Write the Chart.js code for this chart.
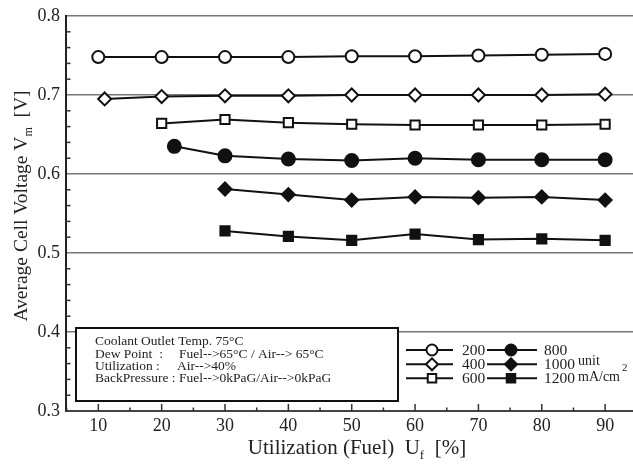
<!DOCTYPE html>
<html>
<head>
<meta charset="utf-8">
<script src="https://cdn.jsdelivr.net/npm/chart.js@4/dist/chart.umd.min.js"></script>
<style>
  html, body { margin: 0; padding: 0; background: #fff; overflow: hidden; }
  #chart { display: block; }
</style>
</head>
<body>
<canvas id="chart" width="633" height="470"></canvas>
<script>
// values
const xTicks = [10, 20, 30, 40, 50, 60, 70, 80, 90];
const yTicks = [0.3, 0.4, 0.5, 0.6, 0.7, 0.8];

const x200 = [10, 20, 30, 40, 50, 60, 70, 80, 90];
const v200 = [0.748, 0.748, 0.748, 0.748, 0.749, 0.749, 0.750, 0.751, 0.752];
const x400 = [11, 20, 30, 40, 50, 60, 70, 80, 90];
const v400 = [0.695, 0.698, 0.699, 0.699, 0.700, 0.700, 0.700, 0.700, 0.701];
const x600 = [20, 30, 40, 50, 60, 70, 80, 90];
const v600 = [0.664, 0.669, 0.665, 0.663, 0.662, 0.662, 0.662, 0.663];
const x800 = [22, 30, 40, 50, 60, 70, 80, 90];
const v800 = [0.635, 0.623, 0.619, 0.617, 0.620, 0.618, 0.618, 0.618];
const x1000 = [30, 40, 50, 60, 70, 80, 90];
const v1000 = [0.581, 0.574, 0.567, 0.571, 0.570, 0.571, 0.567];
const x1200 = [30, 40, 50, 60, 70, 80, 90];
const v1200 = [0.528, 0.521, 0.516, 0.524, 0.517, 0.518, 0.516];

const noteLines = [
  ['Coolant Outlet Temp. 75°C'],
  ['Dew Point  :', 'Fuel-->65°C / Air--> 65°C'],
  ['Utilization :', 'Air-->40%'],
  ['BackPressure : Fuel-->0kPaG/Air-->0kPaG']
];

const SERIF = '"Liberation Serif", "DejaVu Serif", serif';
const INK = '#111';

function pts(xs, ys) {
  return xs.map((x, i) => ({ x: x, y: ys[i] }));
}

function series(label, xs, ys, style, filled, radius) {
  return {
    label: label,
    data: pts(xs, ys),
    borderColor: INK,
    borderWidth: 2,
    pointStyle: style,
    pointRadius: radius,
    pointHoverRadius: radius,
    pointBorderWidth: 2,
    pointBorderColor: INK,
    pointBackgroundColor: filled ? INK : '#fff',
    tension: 0,
    clip: false
  };
}

const datasets = [
  series('200', x200, v200, 'circle', false, 6),
  series('400', x400, v400, 'rectRot', false, 6.5),
  series('600', x600, v600, 'rect', false, 6.5),
  series('800', x800, v800, 'circle', true, 6.5),
  series('1000', x1000, v1000, 'rectRot', true, 6.5),
  series('1200', x1200, v1200, 'rect', true, 6.5)
];

function marker(ctx, ds, x, y, r) {
  ctx.save();
  ctx.fillStyle = ds.pointBackgroundColor;
  ctx.strokeStyle = ds.pointBorderColor;
  ctx.lineWidth = ds.pointBorderWidth;
  Chart.helpers.drawPoint(ctx, { pointStyle: ds.pointStyle, radius: r, rotation: 0, borderWidth: ds.pointBorderWidth }, x, y);
  ctx.restore();
}

// minor ticks, note box, legend and axis titles
const extras = {
  id: 'extras',
  afterDatasetsDraw(chart) {
    const ctx = chart.ctx;
    const xs = chart.scales.x, ys = chart.scales.y;
    const area = chart.chartArea;
    ctx.save();

    // inward tick marks
    ctx.strokeStyle = '#333';
    ctx.lineWidth = 1.5;
    for (let v = 5; v <= 90; v += 5) {
      const px = xs.getPixelForValue(v);
      const len = v % 10 === 0 ? 7 : 3.5;
      ctx.beginPath();
      ctx.moveTo(px, area.bottom);
      ctx.lineTo(px, area.bottom - len);
      ctx.stroke();
    }
    for (let i = 1; i < 25; i++) {
      if (i % 5 === 0) continue;
      const py = ys.getPixelForValue(0.3 + i * 0.02);
      ctx.beginPath();
      ctx.moveTo(area.left, py);
      ctx.lineTo(area.left + 4.5, py);
      ctx.stroke();
    }

    // note box
    ctx.fillStyle = '#fff';
    ctx.fillRect(76, 328, 322, 73);
    ctx.strokeStyle = '#111';
    ctx.lineWidth = 2;
    ctx.strokeRect(76, 328, 322, 73);
    ctx.fillStyle = '#222';
    ctx.font = '13.5px ' + SERIF;
    ctx.textBaseline = 'middle';
    ctx.textAlign = 'left';
    const rowsY = [341, 354, 366, 378];
    const valX = [0, 179, 177, 0];
    noteLines.forEach((parts, i) => {
      ctx.fillText(parts[0], 95, rowsY[i]);
      if (parts[1]) ctx.fillText(parts[1], valX[i], rowsY[i]);
    });

    // legend
    const legRows = [350, 364.3, 378.3];
    const cols = [
      { x1: 406, x2: 453, mx: 432, tx: 462 },
      { x1: 487, x2: 537, mx: 511, tx: 544 }
    ];
    ctx.font = '15.5px ' + SERIF;
    chart.data.datasets.forEach((ds, i) => {
      const c = cols[Math.floor(i / 3)];
      const y = legRows[i % 3];
      ctx.strokeStyle = INK;
      ctx.lineWidth = 2;
      ctx.beginPath();
      ctx.moveTo(c.x1, y);
      ctx.lineTo(c.x2, y);
      ctx.stroke();
      marker(ctx, ds, c.mx, y, ds.pointStyle === 'circle' ? 5.5 : 6);
      ctx.fillStyle = '#222';
      ctx.fillText(ds.label, c.tx, y + 1);
    });
    ctx.font = '14px ' + SERIF;
    ctx.fillText('unit', 578, 361);
    ctx.fillText('mA/cm', 578, 377);
    const w = ctx.measureText('mA/cm').width;
    ctx.font = '11px ' + SERIF;
    ctx.fillText('2', 578 + w + 2, 368);

    // x title with subscript
    ctx.fillStyle = '#222';
    ctx.textBaseline = 'alphabetic';
    const big = '21px ' + SERIF, small = '13px ' + SERIF;
    ctx.font = big;
    const p1 = 'Utilization (Fuel)  U', p3 = '  [%]';
    const w1 = ctx.measureText(p1).width, w3 = ctx.measureText(p3).width;
    ctx.font = small;
    const w2 = ctx.measureText('f').width;
    let sx = 357 - (w1 + w2 + w3) / 2;
    const by = 454;
    ctx.font = big; ctx.fillText(p1, sx, by);
    ctx.font = small; ctx.fillText('f', sx + w1, by + 5);
    ctx.font = big; ctx.fillText(p3, sx + w1 + w2, by);

    // y title with subscript, rotated
    ctx.save();
    ctx.translate(27, 206);
    ctx.rotate(-Math.PI / 2);
    const yBig = '19.5px ' + SERIF, ySmall = '12px ' + SERIF;
    const q1 = 'Average Cell Voltage V', q3 = '  [V]';
    ctx.font = yBig;
    const u1 = ctx.measureText(q1).width, u3 = ctx.measureText(q3).width;
    ctx.font = ySmall;
    const u2 = ctx.measureText('m').width;
    let qx = -(u1 + u2 + u3) / 2;
    ctx.font = yBig; ctx.fillText(q1, qx, 0);
    ctx.font = ySmall; ctx.fillText('m', qx + u1, 5);
    ctx.font = yBig; ctx.fillText(q3, qx + u1 + u2, 0);
    ctx.restore();

    ctx.restore();
  }
};

new Chart(document.getElementById('chart').getContext('2d'), {
  type: 'line',
  data: { datasets: datasets },
  options: {
    responsive: false,
    animation: false,
    events: [],
    layout: { autoPadding: false, padding: { top: 16, left: 0, right: 0, bottom: 0 } },
    plugins: { legend: { display: false }, tooltip: { enabled: false } },
    scales: {
      x: {
        type: 'linear',
        min: 4.9,
        max: 94.4,
        afterBuildTicks: s => { s.ticks = xTicks.map(v => ({ value: v })); },
        afterFit: s => { s.height = 59; s.paddingLeft = 0; s.paddingRight = 0; },
        grid: { display: false },
        border: { color: '#444', width: 2 },
        ticks: {
          font: { family: SERIF, size: 18 },
          color: '#222',
          padding: -4,
          maxRotation: 0,
          autoSkip: false
        }
      },
      y: {
        min: 0.3,
        max: 0.8,
        afterBuildTicks: s => { s.ticks = yTicks.map(v => ({ value: v })); },
        afterFit: s => { s.width = 66; s.paddingTop = 0; s.paddingBottom = 0; },
        grid: {
          color: c => (c.tick && c.tick.value <= 0.3 ? 'rgba(0,0,0,0)' : '#777'),
          lineWidth: 1.5,
          drawTicks: false
        },
        border: { color: '#222', width: 2 },
        ticks: {
          font: { family: SERIF, size: 18 },
          color: '#222',
          padding: 6,
          autoSkip: false,
          callback: v => v.toFixed(1)
        }
      }
    }
  },
  plugins: [extras]
});
</script>
</body>
</html>
